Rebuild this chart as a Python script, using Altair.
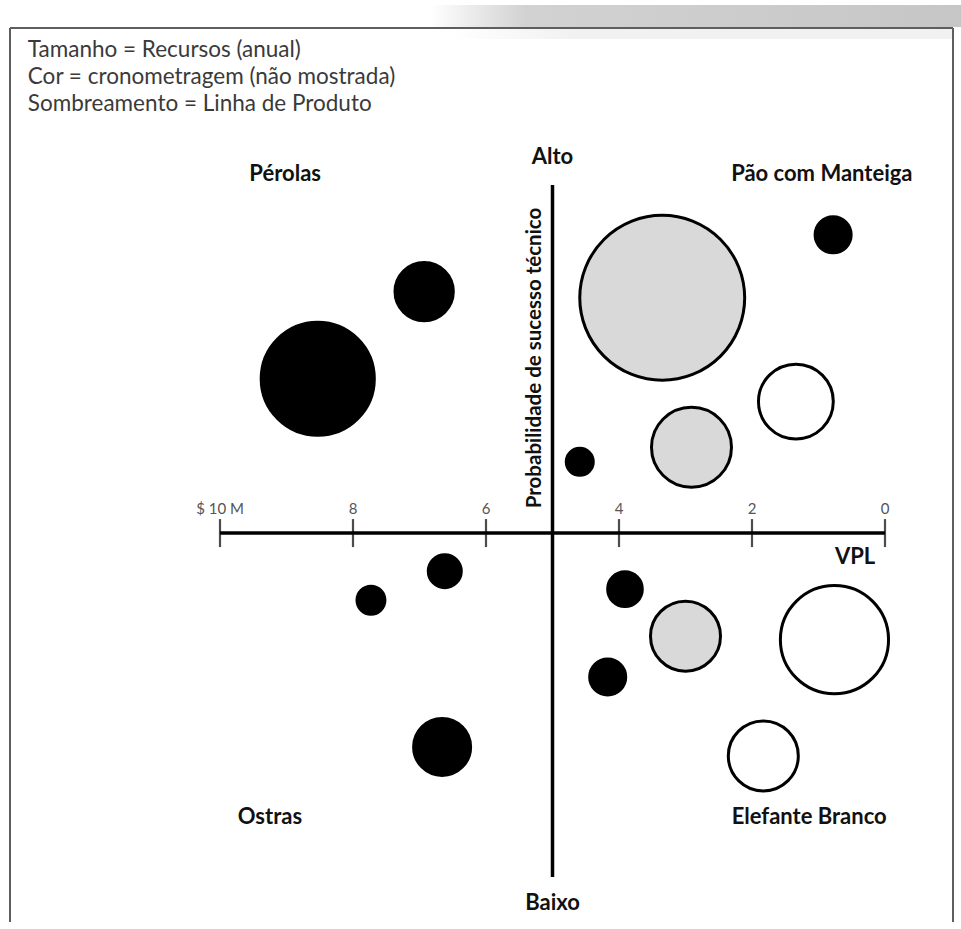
import altair as alt
import pandas as pd

FONT = "Lato"

# ---- bubble data ----
vpl = [8.53, 6.93, 3.35, 0.78, 1.34, 2.91, 4.59, 6.62, 7.73, 3.91, 3.00, 0.76, 4.17, 6.66, 1.83]
prob = [72.0, 84.6, 83.7, 92.8, 68.7, 62.1, 60.0, 44.2, 40.0, 41.6, 34.8, 34.3, 28.9, 18.8, 17.5]
recursos = [12.8, 3.4, 27.2, 1.3, 5.6, 6.4, 0.73, 1.09, 0.78, 1.2, 4.9, 11.7, 1.3, 3.25, 4.9]
linha = ["A", "A", "B", "A", "C", "B", "A", "A", "A", "A", "B", "C", "A", "A", "C"]

linhas_dom = ["A", "B", "C"]
linhas_cor = ["#000000", "#d9d9d9", "#ffffff"]

# ---- axes ----
tick_values = [10, 8, 6, 4, 2, 0]
tick_labels = ["$ 10 M", "8", "6", "4", "2", "0"]
x_cross = 5.0
y_cross = 49.7

# ---- texts ----
header_lines = ["Tamanho = Recursos (anual)",
                "Cor = cronometragem (não mostrada)",
                "Sombreamento = Linha de Produto"]
header_y = [119.5, 115.6, 111.7]

quad_text = ["Alto", "Pérolas", "Pão com Manteiga", "Ostras", "Elefante Branco", "Baixo", "VPL"]
quad_x = [5.0, 9.02, 0.95, 9.25, 1.14, 5.0, 0.45]
quad_y = [104.0, 101.6, 101.6, 8.7, 8.7, -3.8, 46.2]

XD = [10, 0]
YD = [0, 100]


def X(field):
    return alt.X(field, type="quantitative", scale=alt.Scale(domain=XD, nice=False, zero=False), axis=None)


def Y(field):
    return alt.Y(field, type="quantitative", scale=alt.Scale(domain=YD, nice=False, zero=False), axis=None)


one = pd.DataFrame({"k": [0]})

# decoration: top shadow and frame
shadow = alt.Chart(one).mark_rect(
    fill=alt.Gradient(gradient="linear",
                      stops=[alt.GradientStop(color="#ffffff", offset=0),
                             alt.GradientStop(color="#d2d2d2", offset=0.18),
                             alt.GradientStop(color="#c6c6c6", offset=1)],
                      x1=0, x2=1, y1=0, y2=0)
).encode(x=alt.value(210), x2=alt.value(741), y=alt.value(-180), y2=alt.value(-158))

inner_shade = alt.Chart(one).mark_rect(
    fill=alt.Gradient(gradient="linear",
                      stops=[alt.GradientStop(color="#ffffff", offset=0),
                             alt.GradientStop(color="#f1f1f1", offset=0.25),
                             alt.GradientStop(color="#f1f1f1", offset=1)],
                      x1=0, x2=1, y1=0, y2=0)
).encode(x=alt.value(230), x2=alt.value(732), y=alt.value(-156), y2=alt.value(-146))

frame_top = alt.Chart(one).mark_rule(color="#5e5e5e", strokeWidth=2).encode(
    x=alt.value(-210), x2=alt.value(733), y=alt.value(-157))
frame_left = alt.Chart(one).mark_rule(color="#5e5e5e", strokeWidth=2).encode(
    x=alt.value(-210), y=alt.value(-157), y2=alt.value(760))
frame_right = alt.Chart(one).mark_rule(color="#5e5e5e", strokeWidth=2).encode(
    x=alt.value(733), y=alt.value(-157), y2=alt.value(760))

# axes lines
hline = alt.Chart(pd.DataFrame({"x1": [10], "x2": [0], "y": [y_cross]})).mark_rule(
    color="black", strokeWidth=3.5).encode(x=X("x1"), x2="x2", y=Y("y"))
vline = alt.Chart(pd.DataFrame({"x": [x_cross], "y1": [0], "y2": [100]})).mark_rule(
    color="black", strokeWidth=3.5).encode(x=X("x"), y=Y("y1"), y2="y2")

tick_df = pd.DataFrame({"t": tick_values, "lab": tick_labels, "y": [y_cross] * len(tick_values)})
ticks = alt.Chart(tick_df).mark_tick(
    orient="vertical", size=28, thickness=2.2, color="black").encode(x=X("t"), y=Y("y"))
tick_text = alt.Chart(tick_df).mark_text(
    align="center", baseline="bottom", dy=-16, font=FONT, fontSize=15, color="#555555").encode(
    x=X("t"), y=Y("y"), text="lab:N")

bubbles = alt.Chart(pd.DataFrame({"vpl": vpl, "prob": prob, "recursos": recursos, "linha": linha})).mark_circle(
    stroke="black", strokeWidth=3, opacity=1).encode(
    x=X("vpl"), y=Y("prob"),
    size=alt.Size("recursos:Q", scale=alt.Scale(domain=[0, 30], range=[0, 30000], zero=True), legend=None),
    fill=alt.Fill("linha:N", scale=alt.Scale(domain=linhas_dom, range=linhas_cor), legend=None))

header = alt.Chart(pd.DataFrame({"t": header_lines, "x": [12.89] * 3, "y": header_y})).mark_text(
    align="left", baseline="middle", font=FONT, fontSize=22.5, color="#3a3a3a").encode(
    x=X("x"), y=Y("y"), text="t:N")

quads = alt.Chart(pd.DataFrame({"t": quad_text, "x": quad_x, "y": quad_y})).mark_text(
    align="center", baseline="middle", font=FONT, fontSize=22, fontWeight="bold", color="#111111").encode(
    x=X("x"), y=Y("y"), text="t:N")

ylab = alt.Chart(pd.DataFrame({"t": ["Probabilidade de sucesso técnico"], "x": [5.26], "y": [75.0]})).mark_text(
    align="center", baseline="middle", angle=270, font=FONT, fontSize=20.5, fontWeight="bold",
    color="#111111").encode(x=X("x"), y=Y("y"), text="t:N")

chart = alt.layer(shadow, inner_shade, frame_top, frame_left, frame_right, hline, vline, ticks, tick_text,
                  bubbles, header, quads, ylab).properties(
    width=665, height=692,
    padding={"left": 220, "top": 185, "right": 76, "bottom": 45},
    autosize=alt.AutoSizeParams(type="none"),
    background="white"
).configure_view(stroke=None)

chart.save("out.html", embed_options={"renderer": "svg", "actions": False})
